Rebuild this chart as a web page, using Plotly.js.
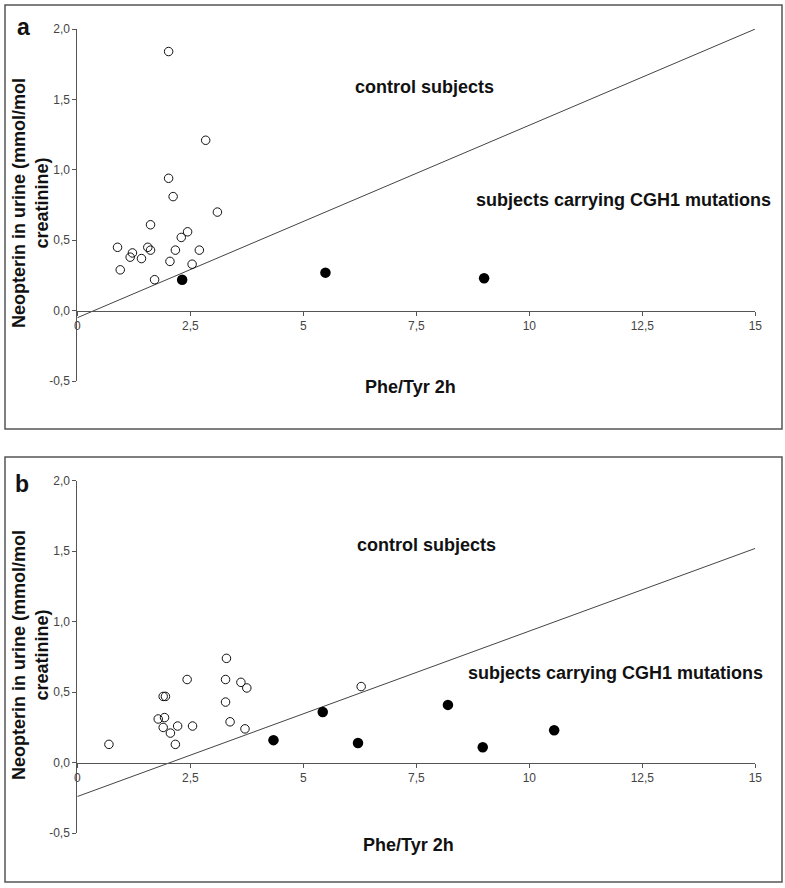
<!DOCTYPE html>
<html>
<head>
<meta charset="utf-8">
<script src="https://cdn.plot.ly/plotly-3.0.1.min.js"></script>
<style>
  body { margin: 0; background: #fff; }
  #chart { width: 785px; height: 888px; }
</style>
</head>
<body>
<div id="chart"></div>
<script>
// ---- data ----
// panel a
var ctrlA_x = [2.02, 2.84, 2.02, 2.12, 3.10, 1.62, 2.44, 2.30, 0.89, 1.56, 1.62, 1.22, 1.17, 1.42, 2.17, 2.70, 2.05, 2.54, 0.95, 1.71];
var ctrlA_y = [1.84, 1.21, 0.94, 0.81, 0.70, 0.61, 0.56, 0.52, 0.45, 0.45, 0.43, 0.41, 0.38, 0.37, 0.43, 0.43, 0.35, 0.33, 0.29, 0.22];
var mutA_x = [2.32, 5.49, 9.00];
var mutA_y = [0.22, 0.27, 0.23];
var fitA_x = [0, 15];
var fitA_y = [-0.05, 2.0];

// panel b
var ctrlB_x = [0.70, 1.79, 1.93, 1.90, 1.90, 1.95, 2.06, 2.22, 2.17, 2.43, 2.55, 3.30, 3.28, 3.28, 3.38, 3.62, 3.75, 3.71, 6.28];
var ctrlB_y = [0.13, 0.31, 0.32, 0.25, 0.47, 0.47, 0.21, 0.26, 0.13, 0.59, 0.26, 0.74, 0.59, 0.43, 0.29, 0.57, 0.53, 0.24, 0.54];
var mutB_x = [4.34, 5.43, 6.21, 8.20, 8.97, 10.55];
var mutB_y = [0.16, 0.36, 0.14, 0.41, 0.11, 0.23];
var fitB_x = [0, 15];
var fitB_y = [-0.24, 1.52];

// ticks (comma decimals, plain hyphen minus)
var xTickVals = [0, 2.5, 5, 7.5, 10, 12.5, 15];
var xTickText = ["0", "2,5", "5", "7,5", "10", "12,5", "15"];
var yTickVals = [-0.5, 0, 0.5, 1, 1.5, 2];
var yTickText = ["-0,5", "0,0", "0,5", "1,0", "1,5", "2,0"];

var yTitle = "Neopterin in urine (mmol/mol<br>creatinine)";
var xTitle = "Phe/Tyr 2h";
var ctrlLabel = "control subjects";
var mutLabel = "subjects carrying CGH1 mutations";

// ---- layout helpers (figure pixels -> paper fractions, margins are 0) ----
var W = 785, H = 888;
function px(x) { return x / W; }
function py(y) { return 1 - y / H; }

var xRange = [0, 15], yRange = [-0.5, 2.0];
// where the x axis crosses y = 0 inside each y domain
function zeroPos(dom) {
  return dom[0] + (0 - yRange[0]) / (yRange[1] - yRange[0]) * (dom[1] - dom[0]);
}

var xDom = [px(77.3), px(755.3)];
var yDomA = [py(381.1), py(29.0)];
var yDomB = [py(833.2), py(480.7)];

var axisCol = "#555";
var tickFont = { family: "Liberation Sans, Arial, sans-serif", size: 12, color: "#444" };
var boldFont = { family: "Liberation Sans, Arial, sans-serif", size: 18, color: "#111", weight: "bold" };

function xAxis(pos) {
  return {
    domain: xDom, range: xRange, anchor: "free", position: pos,
    showline: true, linecolor: axisCol, linewidth: 1,
    ticks: "outside", ticklen: 4, tickcolor: axisCol,
    tickvals: xTickVals, ticktext: xTickText, tickfont: tickFont,
    showgrid: false, zeroline: false, fixedrange: true
  };
}
function yAxis(dom, anchor) {
  return {
    domain: dom, range: yRange, anchor: anchor,
    showline: true, linecolor: axisCol, linewidth: 1,
    ticks: "outside", ticklen: 4, tickcolor: axisCol,
    tickvals: yTickVals, ticktext: yTickText, tickfont: tickFont,
    showgrid: false, zeroline: false, fixedrange: true
  };
}

function fitTrace(x, y, xa, ya) {
  return { x: x, y: y, xaxis: xa, yaxis: ya, mode: "lines", type: "scatter",
           line: { color: "#444", width: 1 }, hoverinfo: "skip" };
}
function openTrace(x, y, xa, ya) {
  return { x: x, y: y, xaxis: xa, yaxis: ya, mode: "markers", type: "scatter",
           marker: { symbol: "circle-open", size: 8.5, color: "#111", line: { width: 1 } } };
}
function filledTrace(x, y, xa, ya) {
  return { x: x, y: y, xaxis: xa, yaxis: ya, mode: "markers", type: "scatter",
           marker: { symbol: "circle", size: 10.5, color: "#000" } };
}

var data = [
  fitTrace(fitA_x, fitA_y, "x", "y"),
  openTrace(ctrlA_x, ctrlA_y, "x", "y"),
  filledTrace(mutA_x, mutA_y, "x", "y"),
  fitTrace(fitB_x, fitB_y, "x2", "y2"),
  openTrace(ctrlB_x, ctrlB_y, "x2", "y2"),
  filledTrace(mutB_x, mutB_y, "x2", "y2")
];

function note(text, x, y, font, angle) {
  return { text: text, x: px(x), y: py(y), xref: "paper", yref: "paper",
           xanchor: "center", yanchor: "middle", showarrow: false,
           font: font, textangle: angle || 0 };
}
var letterFont = { family: "Liberation Sans, Arial, sans-serif", size: 23, color: "#111", weight: "bold" };

var layout = {
  width: W, height: H, autosize: false,
  margin: { l: 0, r: 0, t: 0, b: 0 },
  paper_bgcolor: "#fff", plot_bgcolor: "rgba(0,0,0,0)",
  showlegend: false,
  xaxis: xAxis(zeroPos(yDomA)),
  yaxis: yAxis(yDomA, "x"),
  xaxis2: xAxis(zeroPos(yDomB)),
  yaxis2: yAxis(yDomB, "x2"),
  shapes: [
    { type: "rect", xref: "paper", yref: "paper", x0: px(5), x1: px(782), y0: py(429), y1: py(5),
      line: { color: "#555", width: 1.5 } },
    { type: "rect", xref: "paper", yref: "paper", x0: px(5), x1: px(782), y0: py(882), y1: py(457),
      line: { color: "#555", width: 1.5 } }
  ],
  annotations: [
    note("a", 23, 27, letterFont),
    note(ctrlLabel, 424, 87, boldFont),
    note(mutLabel, 623, 200, boldFont),
    note(xTitle, 410, 387, boldFont),
    note(yTitle, 30, 203, boldFont, -90),
    note("b", 22, 484, letterFont),
    note(ctrlLabel, 426, 545, boldFont),
    note(mutLabel, 615, 673, boldFont),
    note(xTitle, 408, 845, boldFont),
    note(yTitle, 30, 655, boldFont, -90)
  ]
};

Plotly.newPlot("chart", data, layout, { displayModeBar: false, staticPlot: true });
</script>
</body>
</html>
